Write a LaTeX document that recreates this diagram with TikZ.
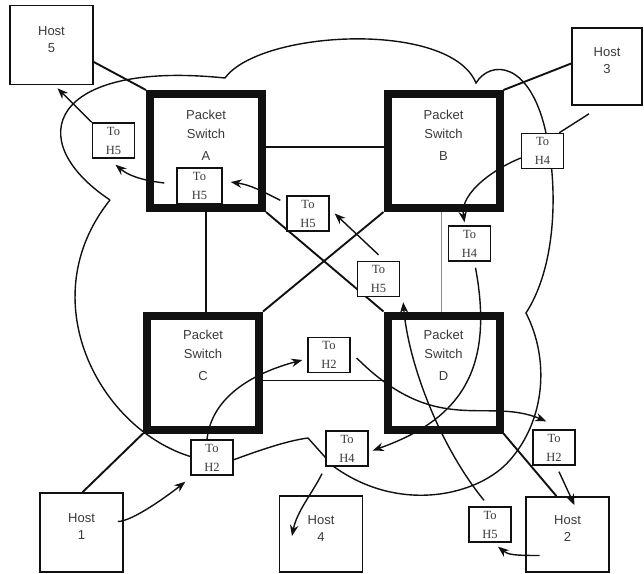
\documentclass[tikz,border=0pt]{standalone}
\usepackage{fontspec}
\setmainfont{Liberation Sans}
\newfontfamily\tagserif{Liberation Serif}
\usepackage{xcolor}
\definecolor{cMain}{HTML}{111111}
\definecolor{cText}{HTML}{3A3A3A}
\definecolor{cGray}{HTML}{8C8C8C}
\usetikzlibrary{arrows.meta,backgrounds}
\tikzset{
  host-box/.style={draw=cMain,line width=1.6pt,minimum width=83pt,minimum height=79pt,
    align=center,font=\fontsize{13}{17}\selectfont,text=cText,text depth=11pt},
  switch-box/.style={draw=cMain,line width=8pt,minimum width=112pt,minimum height=114pt},
  switch-text/.style={anchor=north,inner sep=0pt,align=center,
    font=\fontsize{13}{19}\selectfont,text=cText},
  tag-box/.style={draw=cMain,line width=1.4pt,fill=white,minimum width=42pt,
    minimum height=35pt,inner sep=0pt,align=center,
    font=\tagserif\fontsize{12.5}{19}\selectfont,text=cText},
  % links between hosts and switches; the thin one is grey
  link/.style={draw=cMain,line width=1.9pt},
  link-thin/.style={draw=cGray,line width=1pt},
  cloud-line/.style={draw=cMain,line width=1.4pt},
  flow/.style={draw=cMain,line width=1.4pt},
  arrow/.style={flow,-{Stealth[length=11pt,width=8.5pt]}},
}
\begin{document}
\begin{tikzpicture}[x=1pt,y=-1pt]
  \useasboundingbox (0,0) rectangle (644,573);

  \node[host-box] (h5) at (51.5,45) {Host\\5};
  \node[host-box,minimum width=70pt,minimum height=77pt] (h3) at (607,66.5) {Host\\3};
  \node[host-box] (h1) at (81.5,532.5) {Host\\1};
  \node[host-box,minimum height=76pt] (h4) at (321,534) {Host\\4};
  \node[host-box,minimum height=75pt] (h2) at (567.5,534.5) {Host\\2};

  \node[switch-box] (swA) at (206,151) {};
  \node[switch-box] (swB) at (443.5,151) {};
  \node[switch-box] (swC) at (203,372.5) {};
  \node[switch-box] (swD) at (443.5,372.5) {};
  \node[switch-text] (swAtxt) at ([yshift=-20pt]swA.north) {Packet\\Switch\\[3pt]A};
  \node[switch-text] (swBtxt) at ([yshift=-20pt]swB.north) {Packet\\Switch\\[3pt]B};
  \node[switch-text] (swCtxt) at ([yshift=-18pt]swC.north) {Packet\\Switch\\[3pt]C};
  \node[switch-text] (swDtxt) at ([yshift=-18pt]swD.north) {Packet\\Switch\\[3pt]D};

  \node[tag-box] (tag5a) at (113.5,140.5) {To\\H5};
  \node[tag-box,minimum width=45pt,minimum height=36pt] (tag5b) at (199.5,186) {To\\H5};
  \node[tag-box] (tag5c) at (308,213.5) {To\\H5};
  \node[tag-box] (tag5d) at (378.5,279) {To\\H5};
  \node[tag-box] (tag5e) at (490,524.5) {To\\H5};
  \node[tag-box] (tag4a) at (542.5,151) {To\\H4};
  \node[tag-box] (tag4b) at (469.5,243.5) {To\\H4};
  \node[tag-box] (tag4c) at (347,448.5) {To\\H4};
  \node[tag-box] (tag2a) at (212,457.5) {To\\H2};
  \node[tag-box] (tag2b) at (329,355) {To\\H2};
  \node[tag-box] (tag2c) at (554,447.5) {To\\H2};

  \draw[arrow] ([xshift=-28pt,yshift=-21pt]h2.center) .. controls +(-25,0) and +(10,8) .. ([xshift=8pt,yshift=-4pt]tag5e.south);
  \draw[arrow] ([xshift=-6pt,yshift=6pt]tag5e.north) .. controls +(-45,-55) and +(5,60) .. ([xshift=3pt,yshift=-5pt]tag5d.south east);
  \draw[arrow] ([yshift=6pt]tag5d.north) -- ([xshift=5pt]tag5c.east);
  \draw[arrow] ([xshift=-6pt,yshift=-5pt]tag5c.north west) .. controls +(-20,-10) and +(20,3) .. ([xshift=8pt,yshift=4pt]tag5b.east);
  \draw[arrow] ([xshift=-12pt,yshift=3pt]tag5b.west) .. controls +(-25,-3) and +(12,10) .. ([xshift=2pt,yshift=-6pt]tag5a.south);
  \draw[arrow] (tag5a.north west) -- ([xshift=6pt,yshift=-3pt]h5.south);

  \draw[arrow] ([xshift=-6pt,yshift=11pt]h1.east) .. controls +(15,0) and +(-15,12) .. ([xshift=-5pt,yshift=-6pt]tag2a.south west);
  \draw[arrow] ([xshift=-5pt]tag2a.north) .. controls +(5,-45) and +(-45,12) .. ([xshift=-5pt,yshift=-5pt]tag2b.west);
  \draw[arrow] ([xshift=6pt,yshift=-3pt]tag2b.east) .. controls +(80,80) and +(-60,-25) .. ([xshift=14pt,yshift=8pt]tag2c.north west);
  \draw[arrow] ([xshift=5pt,yshift=-6pt]tag2c.south) -- ([xshift=7pt,yshift=-9pt]h2.north);

  \draw[flow] ([xshift=-18pt,yshift=-8pt]h3.south) -- ([xshift=-5pt]tag4a.north east);
  \draw[arrow] ([yshift=-7pt]tag4a.west) .. controls +(-25,10) and +(-5,-30) .. ([xshift=-5pt,yshift=3pt]tag4b.north);
  \draw[arrow] ([xshift=6pt,yshift=-6pt]tag4b.south) .. controls +(19,102) and +(88,-31) .. ([xshift=4pt,yshift=-2pt]tag4c.east);
  \draw[arrow] ([xshift=-25pt,yshift=-7pt]tag4c.south) .. controls +(-10,20) and +(5,-25) .. ([xshift=-29pt,yshift=-2pt]h4.center);

  \begin{scope}[on background layer]
    \draw[cloud-line] (110,200) .. controls (20,140) and (50,60) .. (225,78)
      .. controls (260,30) and (450,20) .. (476,83)
      .. controls (490,60) and (530,60) .. (546,133)
      .. controls (556,175) and (560,260) .. (526,313)
      .. controls (550,360) and (545,420) .. (510,460)
      .. controls (480,495) and (400,515) .. (333,466)
      -- (308,438)
      .. controls (285,441) and (255,452) .. (233,460)
      -- (192,457)
      .. controls (100,430) and (30,300) .. (110,200);
    \draw[link] ([yshift=-17pt]h5.east) -- (swA.north west);
    \draw[link] (swB.north east) -- ([yshift=3pt]h3.west);
    \draw[link] (swC.south west) -- ([xshift=1pt]h1.north);
    \draw[link] (swD.south east) -- ([xshift=-11pt]h2.north);
    \draw[link] ([yshift=4pt]swA.east) -- ([yshift=4pt]swB.west);
    \draw[link] (swA.south) -- (swA.south |- swC.north);
    \draw[link] (swA.south east) -- (swD.north west);
    \draw[link] (swB.south west) -- (swC.north east);
    \draw[link] ([yshift=-8pt]swC.east) -- ([yshift=-8pt]swD.west);
    \draw[link-thin] ([xshift=-2pt]swB.south) -- ([xshift=-2pt]swD.north);
  \end{scope}
\end{tikzpicture}
\end{document}
